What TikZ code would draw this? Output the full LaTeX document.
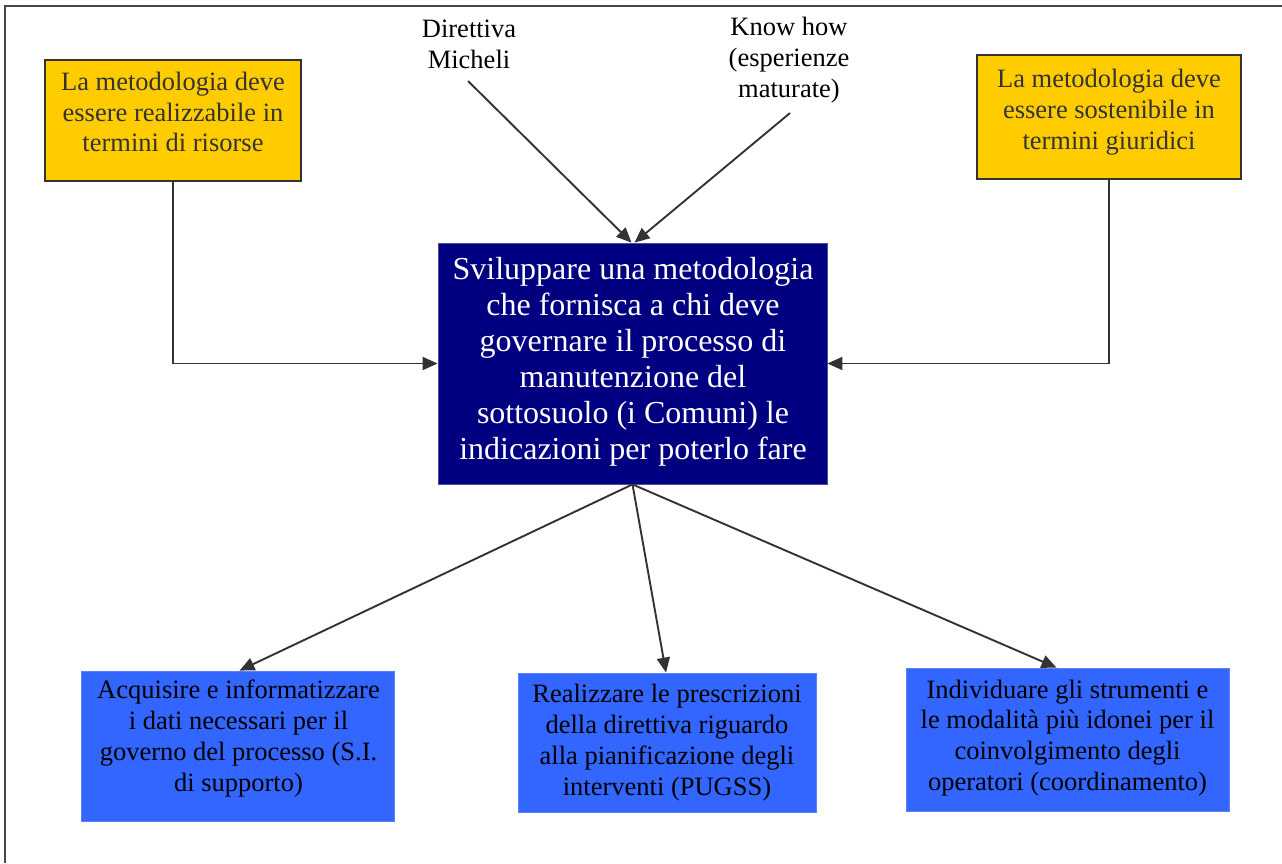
\documentclass[tikz,border=0pt]{standalone}
\usepackage{fontspec}
\setmainfont{Liberation Serif}
\usetikzlibrary{arrows.meta}
\definecolor{ybox}{HTML}{FFCC00}
\definecolor{navy}{HTML}{000080}
\definecolor{bbox}{HTML}{3366FF}
\definecolor{bbord}{HTML}{5A82FF}
\definecolor{lin}{HTML}{333333}
\definecolor{ytext}{HTML}{333333}
\begin{document}
\begin{tikzpicture}[x=1pt,y=-1pt,
  ybx/.style={draw=lin,line width=1.8pt,fill=ybox,inner sep=0pt},
  cbx/.style={fill=navy,draw=navy!70!white,line width=0.8pt,inner sep=0pt},
  bbx/.style={fill=bbox,draw=bbord,line width=0.8pt,inner sep=0pt},
  txt/.style={align=center,inner sep=0pt,font=\fontsize{26.5}{30.8}\selectfont},
  bigtxt/.style={align=center,inner sep=0pt,text=white,font=\fontsize{32}{36}\selectfont},
  conn/.style={draw=lin,line width=1.9pt,-{Triangle[length=15pt,width=13pt]}}
]
\useasboundingbox (0,0) rectangle (1282,863);
\draw[lin!90!white,line width=2pt] (5,863) -- (5,6) -- (1282,6);

% boxes
\node[ybx,minimum width=256pt,minimum height=121pt] (yl) at (173,120.5) {};
\node[txt,text=ytext] (ylt) at (173,112) {La metodologia deve\\essere realizzabile in\\termini di risorse};
\node[ybx,minimum width=264pt,minimum height=124pt] (yr) at (1109,117) {};
\node[txt,text=ytext] (yrt) at (1109,112) {La metodologia deve\\essere sostenibile in\\termini giuridici};

\node[cbx,minimum width=389pt,minimum height=241pt] (c) at (632.5,363.5) {};
\node[bigtxt] (ct) at (633,361.5) {Sviluppare una metodologia\\che fornisca a chi deve\\governare il processo di\\manutenzione del\\sottosuolo (i Comuni) le\\indicazioni per poterlo fare};

\node[bbx,minimum width=313pt,minimum height=150pt] (bl) at (237.5,746) {};
\node[txt] (blt) at (238.5,738.5) {Acquisire e informatizzare\\i dati necessari per il\\governo del processo (S.I.\\di supporto)};
\node[bbx,minimum width=298pt,minimum height=139pt] (bm) at (667,742.5) {};
\node[txt] (bmt) at (667,742.5) {Realizzare le prescrizioni\\della direttiva riguardo\\alla pianificazione degli\\interventi (PUGSS)};
\node[bbx,minimum width=323pt,minimum height=143pt] (br) at (1067.5,739.5) {};
\node[txt] (brt) at (1067.5,738) {Individuare gli strumenti e\\le modalità più idonei per il\\coinvolgimento degli\\operatori (coordinamento)};

% top labels
\node[txt] (dir) at (469,44.5) {Direttiva\\Micheli};
\node[txt] (kh) at (789,60) {Know how\\(esperienze\\maturate)};

% connectors
\draw[conn] ([shift={(-1,12)}]dir.south) -- ([xshift=-1pt]c.north);
\draw[conn] ([shift={(1,10)}]kh.south) -- ([xshift=2pt]c.north);
\draw[conn] (yl.south) |- (c.west);
\draw[conn] (yr.south) |- (c.east);
\draw[conn] (c.south) -- ([xshift=2pt]bl.north);
\draw[conn] (c.south) -- ([xshift=-1pt]bm.north);
\draw[conn] (c.south) -- ([xshift=-11pt]br.north);
\end{tikzpicture}
\end{document}
